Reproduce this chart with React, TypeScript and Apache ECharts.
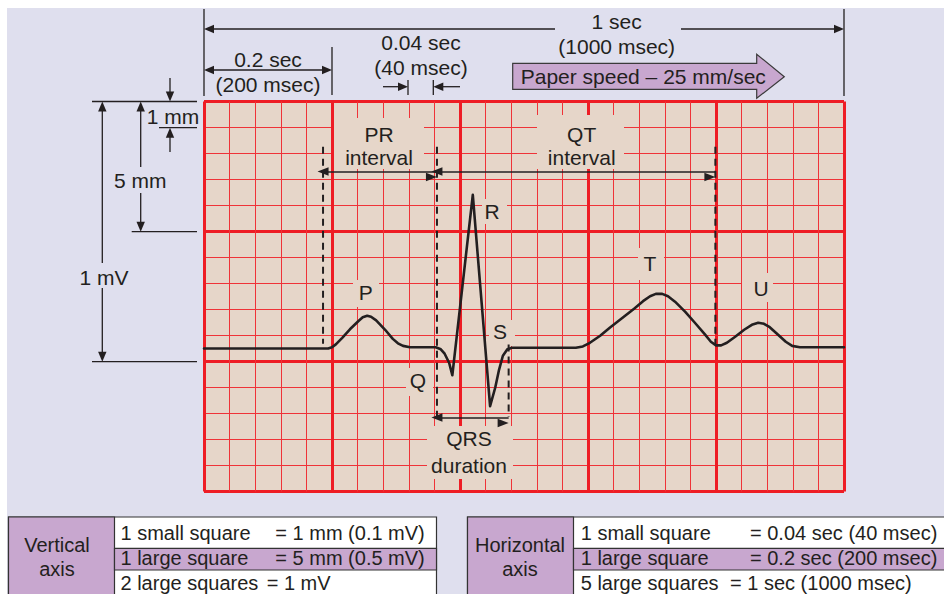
import React, { useEffect, useRef } from 'react';
import * as echarts from 'echarts';

// ECG trace: time in seconds (x) and amplitude in mV above the bottom grid line (y)
const ecgTime = [0, 0.194, 0.2, 0.206, 0.216, 0.228, 0.241, 0.248, 0.255, 0.261, 0.269, 0.283, 0.295, 0.303, 0.311, 0.322, 0.362, 0.37, 0.376, 0.383, 0.388, 0.42, 0.447, 0.455, 0.461, 0.467, 0.474, 0.481, 0.581, 0.592, 0.603, 0.619, 0.634, 0.653, 0.672, 0.686, 0.697, 0.706, 0.716, 0.725, 0.736, 0.752, 0.767, 0.783, 0.792, 0.8, 0.808, 0.817, 0.83, 0.844, 0.856, 0.866, 0.875, 0.884, 0.897, 0.909, 0.919, 0.931, 1.0];
const ecgMv = [0.55, 0.55, 0.555, 0.566, 0.591, 0.624, 0.655, 0.67, 0.676, 0.672, 0.658, 0.622, 0.587, 0.57, 0.56, 0.555, 0.555, 0.547, 0.53, 0.495, 0.447, 1.141, 0.328, 0.399, 0.468, 0.522, 0.547, 0.553, 0.553, 0.558, 0.572, 0.599, 0.63, 0.666, 0.703, 0.732, 0.751, 0.76, 0.76, 0.751, 0.73, 0.691, 0.649, 0.603, 0.576, 0.562, 0.562, 0.572, 0.595, 0.622, 0.641, 0.649, 0.645, 0.632, 0.603, 0.576, 0.56, 0.555, 0.555];

// dashed interval guide lines
const guideTime = [0.186, 0.364, 0.476, 0.799];
const guideTop = [1.326, 1.326, 0.565, 1.326];
const guideBottom = [0.568, 0.287, 0.287, 0.565];

// interval arrows (PR, QT, QRS)
const arrowFrom = [0.186, 0.364, 0.364];
const arrowTo = [0.364, 0.799, 0.476];
const arrowLevel = [1.231, 1.231, 0.285];

// axis ranges / ticks
const timeMax = 1.0;
const timeMajor = 0.2;
const mvMax = 1.5;
const mvMajor = 0.5;
const minorPerMajor = 5;

// table texts
const vertRows = ['1 small square', '1 large square', '2 large squares'];
const vertVals = ['= 1 mm (0.1 mV)', '= 5 mm (0.5 mV)', '= 1 mV'];
const horzRows = ['1 small square', '1 large square', '5 large squares'];
const horzVals = ['= 0.04 sec (40 msec)', '= 0.2 sec (200 msec)', '= 1 sec (1000 msec)'];

const INK = '#231f20';
const BG = '#dfdfee';
const PAPER = '#e6d6c9';
const RED = '#ee1d25';
const RED_MINOR = '#ef3338';
const PURPLE = '#c8a7cf';
const FONT = 'Liberation Sans, Arial, Helvetica, sans-serif';
const FS = 21;
const FS_TABLE = 20;

function ln(x1: number, y1: number, x2: number, y2: number, w = 1.3): any {
  return { type: 'line', silent: true, z: 20, shape: { x1, y1, x2, y2 }, style: { stroke: INK, lineWidth: w } };
}

function arrow(x1: number, y1: number, x2: number, y2: number): any[] {
  const L = 10, H = 4.2;
  const dx = x2 - x1, dy = y2 - y1;
  const d = Math.sqrt(dx * dx + dy * dy);
  const ux = dx / d, uy = dy / d;
  const bx = x2 - ux * L, by = y2 - uy * L;
  const px = -uy * H, py = ux * H;
  return [
    ln(x1, y1, bx + ux * 1, by + uy * 1),
    {
      type: 'polygon', silent: true, z: 20,
      shape: { points: [[x2, y2], [bx + px, by + py], [bx - px, by - py]] },
      style: { fill: INK },
    },
  ];
}

function txt(text: string, x: number, y: number, align = 'center', size = FS): any {
  return {
    type: 'text', silent: true, z: 30, x, y,
    style: {
      text, fill: INK, fontSize: size, fontFamily: FONT,
      textAlign: align, textVerticalAlign: 'middle', align, verticalAlign: 'middle',
    },
  };
}

function box(x: number, y: number, w: number, h: number, fill: string, stroke?: string, z = 1): any {
  return {
    type: 'rect', silent: true, z,
    shape: { x, y, width: w, height: h },
    style: stroke ? { fill, stroke, lineWidth: 1.2 } : { fill },
  };
}

function buildGraphic(): any[] {
  const g: any[] = [];
  // white margins of the figure
  g.push(box(0, 0, 944, 8, '#ffffff', undefined, -5));
  g.push(box(0, 0, 7, 594, '#ffffff', undefined, -5));

  // label patches on the paper
  g.push(box(334, 118, 90, 51, PAPER));
  g.push(box(537, 115, 87, 54, PAPER));
  g.push(box(482, 199, 25, 25, PAPER));
  g.push(box(353, 280, 26, 27, PAPER));
  g.push(box(489, 320, 26, 26, PAPER));
  g.push(box(406, 368, 27, 28, PAPER));
  g.push(box(638, 248, 26, 32, PAPER));
  g.push(box(742, 273, 31, 29, PAPER));
  g.push(box(427, 426, 86, 53, PAPER));

  // labels on the paper
  g.push(txt('PR', 379, 134.4), txt('interval', 379, 157.7));
  g.push(txt('QT', 581.7, 134.4), txt('interval', 581.7, 157.7));
  g.push(txt('R', 492, 211), txt('P', 365.7, 292.7), txt('S', 500, 331.7));
  g.push(txt('Q', 418, 380.7), txt('T', 650, 263.4), txt('U', 761, 288));
  g.push(txt('QRS', 469, 438.7), txt('duration', 469, 465.4));

  // top annotations
  g.push(ln(204, 9, 204, 96), ln(844, 9, 844, 96), ln(332, 47, 332, 95));
  g.push(...arrow(555, 29, 204, 29), ...arrow(681, 29, 844, 29));
  g.push(txt('1 sec', 616.7, 21), txt('(1000 msec)', 616.7, 46.7));
  g.push(...arrow(268, 70, 204, 70), ...arrow(268, 70, 332, 70));
  g.push(txt('0.2 sec', 268, 59.4), txt('(200 msec)', 268, 84.4));
  g.push(txt('0.04 sec', 421, 42), txt('(40 msec)', 421, 67.7));
  g.push(...arrow(383, 86.7, 408, 86.7), ln(408, 80, 408, 95));
  g.push(ln(433.3, 80, 433.3, 95), ...arrow(460, 86.7, 433.3, 86.7));
  g.push({
    type: 'polygon', silent: true, z: 15,
    shape: { points: [[512.7, 63.3], [756.7, 63.3], [756.7, 54.3], [784.3, 76.7], [756.7, 98.3], [756.7, 89.3], [512.7, 89.3]] },
    style: { fill: PURPLE, stroke: '#3a3a3a', lineWidth: 1.2 },
  });
  g.push(txt('Paper speed \u2013 25 mm/sec', 520.7, 76, 'left'));

  // left annotations
  g.push(ln(92, 101.5, 197, 101.5), ln(159, 127.7, 197, 127.7));
  g.push(ln(131.7, 231.7, 197, 231.7), ln(92, 361.7, 197, 361.7));
  g.push(...arrow(170, 78, 170, 101.5), ...arrow(170, 152, 170, 127.7));
  g.push(txt('1 mm', 173, 116));
  g.push(...arrow(140.7, 167, 140.7, 101.5), ...arrow(140.7, 193, 140.7, 231.7));
  g.push(txt('5 mm', 140.3, 180.4));
  g.push(...arrow(102.3, 263, 102.3, 101.5), ...arrow(102.3, 288, 102.3, 361.7));
  g.push(txt('1 mV', 104, 277.7));

  // tables
  const rowY = [533.3, 558, 582.5];
  const top = 517, r2 = 548.3, r3 = 570;
  g.push(box(8.5, top, 428, 82, '#ffffff', '#333333', 10));
  g.push(box(8.5, top, 106, 82, PURPLE, '#333333', 11));
  g.push(box(114.5, r2, 322, r3 - r2, PURPLE, '#333333', 11));
  g.push(txt('Vertical', 57, 544.5, 'center', FS_TABLE), txt('axis', 57, 568.5, 'center', FS_TABLE));
  vertRows.forEach((t, i) => g.push(txt(t, 120.5, rowY[i], 'left', FS_TABLE)));
  vertVals.forEach((t, i) => g.push(txt(t, i === 2 ? 266.7 : 275.3, rowY[i], 'left', FS_TABLE)));

  g.push(box(467.5, top, 490, 82, '#ffffff', '#333333', 10));
  g.push(box(467.5, top, 106, 82, PURPLE, '#333333', 11));
  g.push(box(573.5, r2, 390, r3 - r2, PURPLE, '#333333', 11));
  g.push(txt('Horizontal', 520, 544.5, 'center', FS_TABLE), txt('axis', 520, 568.5, 'center', FS_TABLE));
  horzRows.forEach((t, i) => g.push(txt(t, 580.7, rowY[i], 'left', FS_TABLE)));
  horzVals.forEach((t, i) => g.push(txt(t, i === 2 ? 730 : 750, rowY[i], 'left', FS_TABLE)));
  return g;
}

function buildOption(): any {
  const trace = ecgTime.map((t, i) => [t, ecgMv[i]]);
  const guides = guideTime.map((t, i) => ({
    type: 'line',
    data: [[t, guideTop[i]], [t, guideBottom[i]]],
    symbol: 'none',
    silent: true,
    z: 4,
    lineStyle: { color: INK, width: 2, type: [7, 5] },
  }));
  const arrows = arrowFrom.map((f, i) => [
    { coord: [f, arrowLevel[i]] },
    { coord: [arrowTo[i], arrowLevel[i]] },
  ]);
  const axisCommon = {
    type: 'value',
    axisLine: { show: false },
    axisTick: { show: false },
    axisLabel: { show: false },
    splitLine: { show: true, lineStyle: { color: RED, width: 3 } },
    minorTick: { show: false, splitNumber: minorPerMajor },
    minorSplitLine: { show: true, lineStyle: { color: RED_MINOR, width: 1 } },
  };
  return {
    animation: false,
    backgroundColor: BG,
    grid: { left: 204, top: 101.5, width: 640, height: 390, show: true, backgroundColor: PAPER, borderWidth: 0 },
    xAxis: { ...axisCommon, min: 0, max: timeMax, interval: timeMajor },
    yAxis: { ...axisCommon, min: 0, max: mvMax, interval: mvMajor },
    graphic: buildGraphic(),
    series: [
      {
        type: 'line',
        data: trace,
        symbol: 'none',
        silent: true,
        z: 5,
        lineStyle: { color: INK, width: 2.6, join: 'round', cap: 'round' },
        markLine: {
          silent: true,
          animation: false,
          symbol: ['triangle', 'triangle'],
          symbolSize: [8.5, 11],
          symbolOffset: [0, 5.5],
          label: { show: false },
          emphasis: { disabled: true },
          lineStyle: { color: INK, width: 1.5, type: 'solid' },
          data: arrows,
        },
      },
      ...guides,
    ],
  };
}

export default function App() {
  const ref = useRef<HTMLDivElement>(null);
  useEffect(() => {
    const chart = echarts.init(ref.current as HTMLDivElement, null, { renderer: 'svg' });
    chart.setOption(buildOption());
    return () => chart.dispose();
  }, []);
  return <div ref={ref} style={{ position: 'absolute', left: 0, top: 0, width: 944, height: 594 }} />;
}
